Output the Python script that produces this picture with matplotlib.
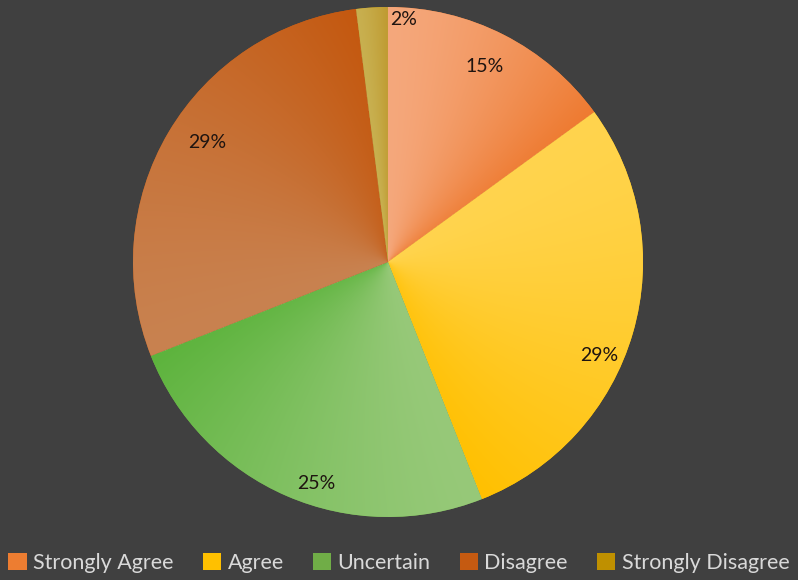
import matplotlib
import numpy as np

matplotlib.use("Agg")
import matplotlib.pyplot as plt
from matplotlib.colors import to_rgb
from matplotlib.patches import Patch

# --- Survey responses ---
categories = ["Strongly Agree", "Agree", "Uncertain", "Disagree", "Strongly Disagree"]
shares = [15, 29, 25, 29, 2]

# --- Styling ---
BG = "#404040"
LEGEND_COLORS = ["#ED7D31", "#FFC000", "#70AD47", "#C55A11", "#BF9000"]
# light (start of slice, clockwise) -> dark (end of slice)
GRAD_LIGHT = ["#F5A87C", "#FFD44E", "#97C979", "#C98250", "#C8B050"]
GRAD_DARK = ["#EE7A30", "#FFC000", "#5CB33C", "#C4580F", "#BF9A30"]
# label spots, in units of the pie radius
LABEL_XY = [(0.38, 0.765), (0.83, -0.365), (-0.28, -0.87), (-0.71, 0.467), (0.06, 0.95)]

plt.rcParams["font.family"] = ["Lato", "DejaVu Sans"]

fig = plt.figure(figsize=(7.98, 5.8), dpi=100, facecolor=BG)
ax = fig.add_axes([133 / 798, 63 / 580, 510 / 798, 510 / 580])
ax.set_facecolor(BG)

wedges, _ = ax.pie(
    shares,
    startangle=90,
    counterclock=False,
    radius=1.0,
    colors=LEGEND_COLORS,
    wedgeprops=dict(linewidth=0),
)

# shade each wedge with an angular gradient clipped to the wedge
n = 600
xs = np.linspace(-1, 1, n)
X, Y = np.meshgrid(xs, xs)
ang = np.degrees(np.arctan2(Y, X))
rad = np.hypot(X, Y)
for i, w in enumerate(wedges):
    t1, t2 = w.theta1, w.theta2
    ang_u = t1 + np.mod(ang - t1, 360)
    t = np.clip((t2 - ang_u) / (t2 - t1), 0, 1)
    t = 0.75 * t ** 1.6 + 0.25 * t * rad
    lo = np.array(to_rgb(GRAD_LIGHT[i]))
    hi = np.array(to_rgb(GRAD_DARK[i]))
    img = lo[None, None, :] * (1 - t[..., None]) + hi[None, None, :] * t[..., None]
    im = ax.imshow(img, extent=(-1, 1, -1, 1), origin="lower", zorder=2,
                   interpolation="bilinear")
    im.set_clip_path(w)

for (x, y), v in zip(LABEL_XY, shares):
    ax.text(x, y, f"{v}%", ha="center", va="center", fontsize=14,
            color="#1E1410", zorder=5)

ax.set_xlim(-1, 1)
ax.set_ylim(-1, 1)
ax.axis("off")

handles = [Patch(facecolor=c, edgecolor="none") for c in LEGEND_COLORS]
fig.legend(
    handles,
    categories,
    loc="center",
    bbox_to_anchor=(0.5, 1 - 563 / 580),
    ncol=5,
    frameon=False,
    fontsize=15.5,
    labelcolor="#D9D9D9",
    handlelength=0.85,
    handleheight=0.85,
    handletextpad=0.3,
    columnspacing=1.35,
    borderaxespad=0,
)

fig.savefig("out.png", dpi=100, facecolor=BG)
